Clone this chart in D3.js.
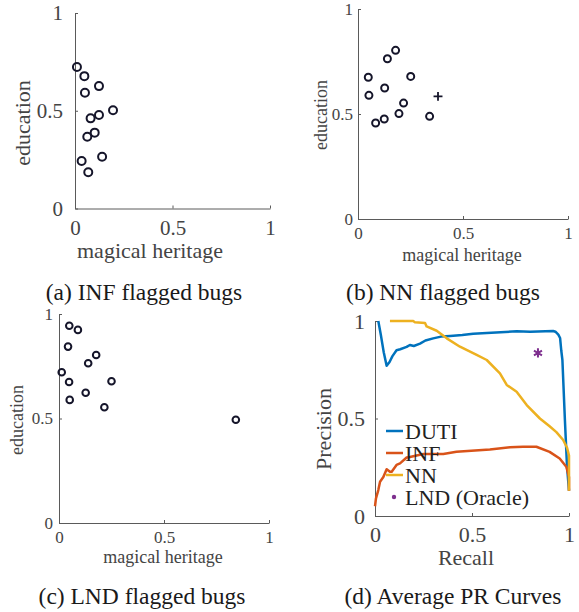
<!DOCTYPE html>
<html>
<head>
<meta charset="utf-8">
<script src="https://cdn.jsdelivr.net/npm/d3@7"></script>
<style>
  body { margin: 0; background: #fff; }
  svg text { font-family: "Liberation Serif", "Times New Roman", "DejaVu Serif", serif; }
</style>
</head>
<body>
<div id="fig"></div>
<script>
// flagged bugs: [magical heritage, education]
const infBugs = [
  [0.010, 0.724], [0.048, 0.677], [0.123, 0.626], [0.051, 0.592],
  [0.195, 0.503], [0.123, 0.478], [0.080, 0.461], [0.101, 0.388],
  [0.063, 0.367], [0.139, 0.265], [0.034, 0.243], [0.068, 0.185]
];
const nnBugs = [
  [0.049, 0.675], [0.052, 0.589], [0.140, 0.763], [0.179, 0.803],
  [0.251, 0.679], [0.127, 0.624], [0.217, 0.552], [0.195, 0.502],
  [0.125, 0.476], [0.084, 0.457], [0.341, 0.489]
];
const nnPlus = [[0.381, 0.584]];
const lndBugs = [
  [0.049, 0.944], [0.090, 0.924], [0.043, 0.844], [0.177, 0.804],
  [0.139, 0.764], [0.013, 0.721], [0.250, 0.678], [0.048, 0.675],
  [0.127, 0.623], [0.051, 0.589], [0.216, 0.554], [0.842, 0.494]
];

// PR curves: [recall, precision]
const dutiPR = [
  [0.017, 1.0], [0.03, 0.93], [0.045, 0.84], [0.06, 0.77], [0.075, 0.79],
  [0.09, 0.82], [0.111, 0.85], [0.13, 0.855], [0.163, 0.867], [0.18, 0.877],
  [0.2, 0.872], [0.232, 0.884], [0.26, 0.90], [0.30, 0.911], [0.34, 0.92],
  [0.387, 0.923], [0.45, 0.928], [0.506, 0.935], [0.6, 0.94], [0.73, 0.947],
  [0.8, 0.945], [0.918, 0.949], [0.93, 0.945], [0.945, 0.93], [0.954, 0.913],
  [0.96, 0.85], [0.966, 0.80], [0.979, 0.49], [0.99, 0.25], [1.0, 0.13]
];
const infPR = [
  [0, 0.05], [0.005, 0.09], [0.017, 0.133], [0.026, 0.176], [0.043, 0.20],
  [0.06, 0.24], [0.077, 0.227], [0.086, 0.227], [0.111, 0.262], [0.129, 0.27],
  [0.163, 0.30], [0.18, 0.303], [0.249, 0.318], [0.352, 0.318], [0.42, 0.329],
  [0.592, 0.341], [0.696, 0.352], [0.763, 0.355], [0.832, 0.355], [0.9, 0.329],
  [0.952, 0.295], [0.986, 0.253], [1.0, 0.2], [1.0, 0.13]
];
const nnPR = [
  [0.077, 1.0], [0.197, 1.0], [0.206, 0.993], [0.258, 0.99], [0.266, 0.972],
  [0.318, 0.95], [0.37, 0.911], [0.438, 0.868], [0.524, 0.826], [0.576, 0.80],
  [0.644, 0.732], [0.679, 0.672], [0.73, 0.637], [0.782, 0.569], [0.85, 0.50],
  [0.9, 0.46], [0.935, 0.43], [0.97, 0.39], [0.99, 0.35], [1.0, 0.31], [1.0, 0.13]
];
const lndPR = [[0.84, 0.836]];

const prNames = ["DUTI", "INF", "NN", "LND (Oracle)"];
const prColors = ["#0072BD", "#D95319", "#EDB120", "#7E2F8E"];

const tickValues = [0, 0.5, 1];
const tickLabels = ["0", "0.5", "1"];
const captions = ["(a) INF flagged bugs", "(b) NN flagged bugs", "(c) LND flagged bugs", "(d) Average PR Curves"];

const serif = "'Liberation Serif', 'Times New Roman', 'DejaVu Serif', serif";

const svg = d3.select("#fig").append("svg")
  .attr("width", 579)
  .attr("height", 612);

const axisColor = "#5a5a5a";
const textColor = "#444";

// one panel = axes box + ticks + axis labels
function makeAxes(p) {
  const g = svg.append("g").attr("transform", `translate(${p.left}, ${p.top})`);
  const x = d3.scaleLinear().domain([0, 1]).range([0, p.w]);
  const y = d3.scaleLinear().domain([0, 1]).range([p.h, 0]);
  const fmt = d => tickLabels[tickValues.indexOf(d)];

  const xa = g.append("g").attr("transform", `translate(0, ${p.h})`)
    .call(d3.axisBottom(x).tickValues(tickValues).tickFormat(fmt)
      .tickSizeInner(-3).tickSizeOuter(0).tickPadding(p.xPad));
  const ya = g.append("g")
    .call(d3.axisLeft(y).tickValues(tickValues).tickFormat(fmt)
      .tickSizeInner(-3).tickSizeOuter(0).tickPadding(p.yPad));

  [xa, ya].forEach(a => {
    a.attr("font-family", serif).attr("font-size", p.tickFont);
    a.select(".domain").attr("stroke", axisColor);
    a.selectAll(".tick line").attr("stroke", axisColor);
    a.selectAll("text").attr("fill", textColor);
  });

  svg.append("text")
    .attr("x", p.xlab[0]).attr("y", p.xlab[1])
    .attr("text-anchor", "middle")
    .attr("fill", textColor)
    .attr("font-family", serif)
    .attr("font-size", p.labFont)
    .text(p.xTitle);
  svg.append("text")
    .attr("transform", `translate(${p.ylab[0]}, ${p.ylab[1]}) rotate(-90)`)
    .attr("text-anchor", "middle")
    .attr("fill", textColor)
    .attr("font-family", serif)
    .attr("font-size", p.labFont)
    .text(p.yTitle);

  return {g, x, y};
}

function scatter(p, pts, r) {
  const a = makeAxes(p);
  a.g.selectAll("circle.pt")
    .data(pts)
    .enter()
    .append("circle")
      .attr("class", "pt")
      .attr("cx", d => a.x(d[0]))
      .attr("cy", d => a.y(d[1]))
      .attr("r", r)
      .attr("fill", "none")
      .attr("stroke", "#15152a")
      .attr("stroke-width", 2);
  return a;
}

// (a)
scatter({left: 75, top: 13, w: 195, h: 195.5, xPad: 12, yPad: 12, tickFont: 21, labFont: 22,
  xlab: [150, 258], ylab: [30, 123], xTitle: "magical heritage", yTitle: "education"}, infBugs, 4);

// (b)
const pb = scatter({left: 358, top: 9, w: 210, h: 210, xPad: 8, yPad: 5, tickFont: 17, labFont: 18,
  xlab: [462, 261], ylab: [327, 115], xTitle: "magical heritage", yTitle: "education"}, nnBugs, 3.5);
pb.g.selectAll("path.plus")
  .data(nnPlus)
  .enter()
  .append("path")
    .attr("class", "plus")
    .attr("transform", d => `translate(${pb.x(d[0])}, ${pb.y(d[1])})`)
    .attr("d", d3.symbol(d3.symbolPlus || d3.symbolCross, 28))
    .attr("fill", "none")
    .attr("stroke", "#15152a")
    .attr("stroke-width", 1.8);

// (c)
scatter({left: 59, top: 314, w: 210, h: 209, xPad: 8, yPad: 6, tickFont: 17, labFont: 18,
  xlab: [163, 563], ylab: [23, 420], xTitle: "magical heritage", yTitle: "education"}, lndBugs, 3.3);

// (d)
const pd = makeAxes({left: 375, top: 321, w: 194, h: 195, xPad: 10, yPad: 10, tickFont: 22, labFont: 22,
  xlab: [466, 565], ylab: [331, 429], xTitle: "Recall", yTitle: "Precision"});

// legend (no box), drawn under the curves
const legend = svg.append("g").attr("transform", "translate(386, 431)");
prNames.forEach((name, i) => {
  const row = legend.append("g").attr("transform", `translate(0, ${i * 22})`);
  if (i < 3) {
    row.append("line").attr("x1", 0).attr("x2", 17).attr("y1", 0).attr("y2", 0)
      .attr("stroke", prColors[i]).attr("stroke-width", 2.5);
  } else {
    row.append("circle").attr("cx", 8).attr("cy", 0).attr("r", 2.2).attr("fill", prColors[i]);
  }
  row.append("text")
    .attr("x", 19).attr("y", 0).attr("dy", "0.35em")
    .attr("fill", "#222")
    .attr("font-family", serif)
    .attr("font-size", 22)
    .text(name);
});

const line = d3.line().x(d => pd.x(d[0])).y(d => pd.y(d[1]));
[dutiPR, infPR, nnPR].forEach((data, i) => {
  pd.g.append("path")
    .datum(data)
    .attr("d", line)
    .attr("fill", "none")
    .attr("stroke", prColors[i])
    .attr("stroke-width", 2.5)
    .attr("stroke-linejoin", "round");
});
pd.g.selectAll("path.lnd")
  .data(lndPR)
  .enter()
  .append("path")
    .attr("class", "lnd")
    .attr("transform", d => `translate(${pd.x(d[0])}, ${pd.y(d[1])})`)
    .attr("d", d3.symbol(d3.symbolAsterisk || d3.symbolCross, 60))
    .attr("fill", "none")
    .attr("stroke", prColors[3])
    .attr("stroke-width", 2);

// captions
const capPos = [[144, 300], [443, 300], [142, 604], [453, 604]];
captions.forEach((c, i) => {
  svg.append("text")
    .attr("x", capPos[i][0]).attr("y", capPos[i][1])
    .attr("text-anchor", "middle")
    .attr("fill", "#1a1a1a")
    .attr("font-family", serif)
    .attr("font-size", 23.5)
    .text(c);
});
</script>
</body>
</html>
